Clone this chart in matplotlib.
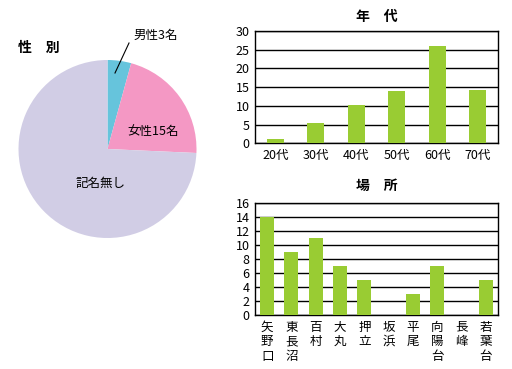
import matplotlib.pyplot as plt
import numpy as np

plt.rcParams['font.family'] = ['Noto Sans CJK JP', 'DejaVu Sans']

# data
sex_labels = ['男性3名', '女性15名', '記名無し']
sex_values = [3, 15, 52]
sex_colors = ['#66C4DC', '#F498C4', '#D1CDE5']

age_labels = ['20代', '30代', '40代', '50代', '60代', '70代']
age_values = [1.1, 5.4, 10.3, 14, 26, 14.3]

place_labels = ['矢野口', '東長沼', '百村', '大丸', '押立', '坂浜', '平尾', '向陽台', '長峰', '若葉台']
place_values = [14, 9, 11, 7, 5, 0, 3, 7, 0, 5]

W, H = 512, 369
green = '#99CC33'

def box(x0, y0, x1, y1):
    # pixel box (top-left origin) -> figure rect
    return [x0 / W, (H - y1) / H, (x1 - x0) / W, (y1 - y0) / H]

def fx(x):
    return x / W

def fy(y):
    return (H - y) / H

fig = plt.figure(figsize=(W / 100, H / 100), dpi=100)

# pie
ax = fig.add_axes(box(18.5, 60, 196.5, 238))
ax.pie(sex_values, colors=sex_colors, startangle=90, counterclock=False,
       radius=1, wedgeprops=dict(linewidth=0))
ax.set_xlim(-1, 1)
ax.set_ylim(-1, 1)
ax.set_aspect('equal')
ax.axis('off')

fig.text(fx(18), fy(48), '性　別', fontsize=10, fontweight='bold', va='center', ha='left')
fig.text(fx(133), fy(35), sex_labels[0], fontsize=9, va='center', ha='left')
fig.lines.append(plt.Line2D([fx(115), fx(129)], [fy(73), fy(43)], color='black',
                            lw=0.8, transform=fig.transFigure))
fig.text(fx(153), fy(131), sex_labels[1], fontsize=9, va='center', ha='center')
fig.text(fx(100), fy(183), sex_labels[2], fontsize=9, va='center', ha='center')

# age bars
ax1 = fig.add_axes(box(255, 31, 498, 143.3))
x = np.arange(len(age_values))
ax1.bar(x, age_values, width=0.41, color=green, zorder=3)
ax1.set_xlim(-0.5, len(age_values) - 0.5)
ax1.set_ylim(0, 30)
ax1.set_yticks(np.arange(0, 31, 5))
ax1.yaxis.grid(True, color='black', lw=1, zorder=1)
ax1.set_xticks(x)
ax1.set_xticklabels(age_labels)
ax1.tick_params(axis='both', length=0, labelsize=9, pad=4)
for s in ax1.spines.values():
    s.set_linewidth(1)
fig.text(fx(377), fy(17), '年　代', fontsize=10, fontweight='bold', va='center', ha='center')

# place bars
ax2 = fig.add_axes(box(255, 203.3, 498, 315))
x2 = np.arange(len(place_values))
ax2.bar(x2, place_values, width=0.58, color=green, zorder=3)
ax2.set_xlim(-0.5, len(place_values) - 0.5)
ax2.set_ylim(0, 16)
ax2.set_yticks(np.arange(0, 17, 2))
ax2.yaxis.grid(True, color='black', lw=1, zorder=1)
ax2.set_xticks(x2)
ax2.set_xticklabels(['\n'.join(p) for p in place_labels], linespacing=1.15, va='top')
ax2.tick_params(axis='both', length=0, labelsize=9, pad=4)
for s in ax2.spines.values():
    s.set_linewidth(1)
fig.text(fx(377), fy(186), '場　所', fontsize=10, fontweight='bold', va='center', ha='center')

fig.savefig('out.png', dpi=100)
